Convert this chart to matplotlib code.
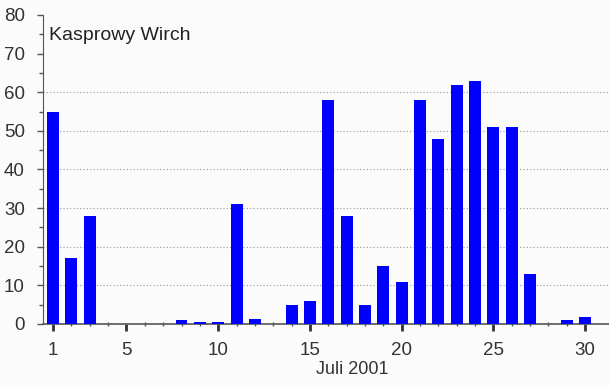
import matplotlib
matplotlib.use("Agg")
import matplotlib.pyplot as plt
from matplotlib.ticker import MultipleLocator, FixedLocator

days = list(range(1, 31))
precip = [55, 17, 28, 0, 0, 0, 0, 1, 0.6, 0.4, 31, 1.2, 0, 5, 6, 58, 28, 5, 15, 11,
          58, 48, 62, 63, 51, 51, 13, 0, 1, 1.8]
xticks = [1, 5, 10, 15, 20, 25, 30]
yticks = [0, 10, 20, 30, 40, 50, 60, 70, 80]
title = "Kasprowy Wirch"
xlabel = "Juli 2001"

plt.rcParams['font.family'] = ['Liberation Sans', 'DejaVu Sans']

fig = plt.figure(figsize=(6.09, 3.85), dpi=100, facecolor='#fbfbfb')
ax = fig.add_axes([43/609, 1-324/385, 1-43/609, (324-15)/385])
ax.set_facecolor('#fbfbfb')

ax.bar(days, precip, width=0.65, color='#0000ff', zorder=3)

ax.set_xlim(0.45, 31.3)
ax.set_ylim(0, 80)
for s in ['top', 'right']:
    ax.spines[s].set_visible(False)
ax.spines['left'].set_color('#555555')
ax.spines['bottom'].set_color('#555555')
ax.spines['bottom'].set_linewidth(1.2)

ax.set_xticks(xticks)
ax.xaxis.set_minor_locator(FixedLocator(days))
ax.set_yticks(yticks)
ax.yaxis.set_minor_locator(MultipleLocator(5))
ax.tick_params(axis='x', which='major', direction='out', length=5, width=2, colors='#333333',
               labelsize=13.5, pad=8, labelcolor='#333333')
ax.tick_params(axis='x', which='minor', direction='inout', length=3, width=1, colors='#555555')
ax.tick_params(axis='y', which='major', direction='out', length=4, width=1, colors='#555555',
               labelsize=13.5, pad=9, labelcolor='#333333')
ax.tick_params(axis='y', which='minor', direction='out', length=3, width=1, colors='#555555')

for g in [10, 20, 30, 40, 50, 60]:
    ax.axhline(g, color='#999999', linestyle=(0, (1, 2)), linewidth=0.8, zorder=1)

ax.text(0.010, 0.96, title, transform=ax.transAxes, fontsize=14, color='#222222',
        va='top', ha='left')
fig.text(352/609, 1-369/385, xlabel, fontsize=13, color='#333333', ha='center', va='center')

fig.savefig("out.png", dpi=100, facecolor=fig.get_facecolor())
